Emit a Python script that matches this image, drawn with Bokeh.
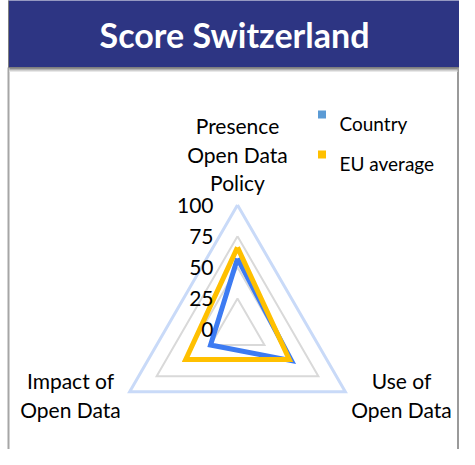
import math
from bokeh.plotting import figure
from bokeh.models import Range1d
from bokeh.core.properties import value
from bokeh.embed import file_html
from bokeh.resources import INLINE

# ---- data ----
title = "Score Switzerland"
axes_labels = [["Presence", "Open Data", "Policy"], ["Use of", "Open Data"], ["Impact of", "Open Data"]]
series_names = ["Country", "EU average"]
country = [57, 50, 25]
eu_average = [66, 48, 48]
tick_values = [0, 25, 50, 75, 100]

FONT = "Lato"
BLUE = "#3D7BF2"
YELLOW = "#FFC000"

# pixel scale: 1.245 px per unit, radar centre at page (245,337)
S = 1.245
W, H = 459, 449
x0 = -(245 - 8) / S
y1 = (337 - 8) / S
p = figure(width=W, height=H, output_backend="svg", toolbar_location=None,
           x_range=Range1d(x0, x0 + W / S), y_range=Range1d(y1 - H / S, y1),
           min_border=0, border_fill_color="white", background_fill_color="white")
p.axis.visible = False
p.grid.visible = False
p.outline_line_color = None

def px(x):
    return (x - 245) / S

def py(y):
    return (337 - y) / S

angles = [math.radians(a) for a in (90, -30, 210)]

def poly(vals):
    xs = [v * math.cos(a) for v, a in zip(vals, angles)]
    ys = [v * math.sin(a) for v, a in zip(vals, angles)]
    return xs + xs[:1], ys + ys[:1]

# frame: side borders
p.line([px(16), px(16)], [py(75), py(470)], line_color="#A6A6A6", line_width=2)
p.line([px(466), px(466)], [py(75), py(470)], line_color="#9A9A9A", line_width=3)
# header shadow
for i, c in enumerate(["#8C8C8C", "#B0B0B0", "#D0D0D0", "#E8E8E8"]):
    p.line([px(17), px(465)], [py(76 + i), py(76 + i)], line_color=c, line_width=1)
# header band
p.quad(left=px(16), right=px(467), bottom=py(75), top=py(4), fill_color="#2D3583",
       line_color="#7F7F7F", line_width=1)
p.text(x=[px(242)], y=[py(42)], text=[title], text_color="white",
       text_font=value(FONT), text_font_style="bold", text_font_size="34px",
       text_align="center", text_baseline="middle")

# grid triangles
for t in tick_values[1:]:
    gx, gy = poly([t, t, t])
    col = "#C9DAF8" if t == tick_values[-1] else "#D9D9D9"
    lw = 3 if t == tick_values[-1] else 2
    p.line(gx, gy, line_color=col, line_width=lw, line_join="miter")

# data
cx, cy = poly(country)
p.line(cx, cy, line_color=BLUE, line_width=5, line_join="miter")
ex, ey = poly(eu_average)
p.line(ex, ey, line_color=YELLOW, line_width=5, line_join="miter")

# tick labels
p.text(x=[px(221)] * len(tick_values), y=tick_values, text=[str(t) for t in tick_values],
       text_font=value(FONT), text_font_size="21px", text_color="black",
       text_align="right", text_baseline="middle")

# axis labels
lab_pos = [(245, 133), (409, 388), (78, 388)]
for lines, (lx, ly) in zip(axes_labels, lab_pos):
    p.text(x=[px(lx)] * len(lines), y=[py(ly + 28.5 * i) for i in range(len(lines))],
           text=lines, text_font=value(FONT), text_font_size="21px", text_color="black",
           text_align="center", text_baseline="middle")

# legend
leg_y = [122, 162]
p.scatter(x=[px(329.5)] * 2, y=[py(v) for v in leg_y], marker="square", size=8,
          fill_color=["#5B9BD5", YELLOW], line_color=None)
p.text(x=[px(347)] * 2, y=[py(v + 9) for v in leg_y], text=series_names,
       text_font=value(FONT), text_font_size="19px", text_color="black",
       text_align="left", text_baseline="middle")

open("out.html", "w").write(file_html(p, INLINE))
